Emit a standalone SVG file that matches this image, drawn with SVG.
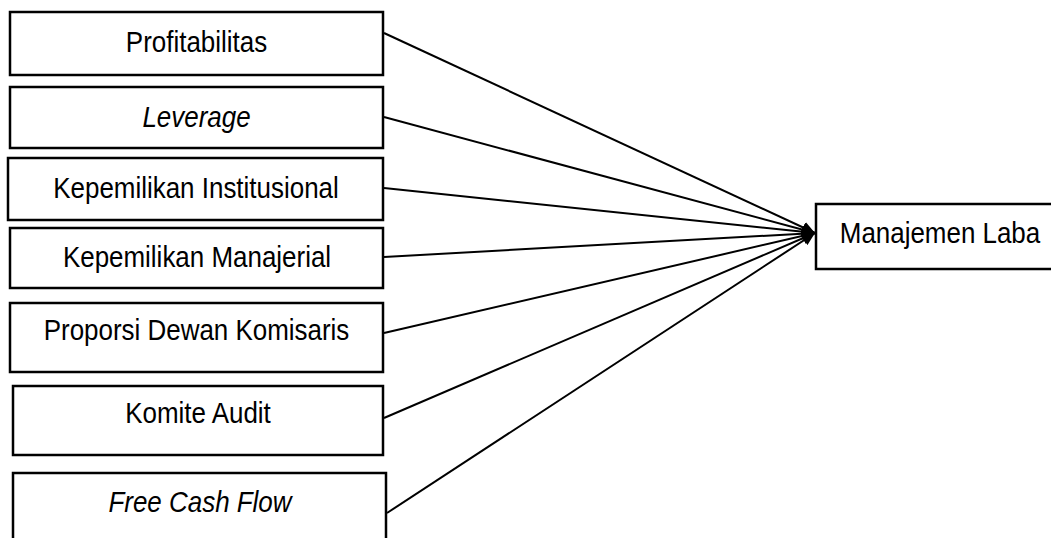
<svg xmlns="http://www.w3.org/2000/svg" width="1051" height="538" viewBox="0 0 1051 538">
  <style>
    .box { fill: #ffffff; stroke: #000000; stroke-width: 2.5; }
    .lbl { font-family: "Liberation Sans", Arial, sans-serif; font-size: 29.5px; fill: #000000; text-anchor: middle; }
    .it { font-style: italic; }
    .conn { stroke: #000000; stroke-width: 2; fill: none; marker-end: url(#arrow); }
  </style>
  <defs>
    <marker id="arrow" markerUnits="userSpaceOnUse" markerWidth="14" markerHeight="12" refX="13" refY="6" orient="auto">
      <path d="M0,0 L13,6 L0,12 Z" fill="#000000"/>
    </marker>
  </defs>
  <rect width="1051" height="538" fill="#ffffff"/>
  <g id="connectors">
    <line class="conn" x1="384" y1="33" x2="815" y2="233"/>
    <line class="conn" x1="384" y1="117" x2="815" y2="233"/>
    <line class="conn" x1="384" y1="188" x2="815" y2="233"/>
    <line class="conn" x1="384" y1="257" x2="815" y2="233"/>
    <line class="conn" x1="384" y1="333" x2="815" y2="233"/>
    <line class="conn" x1="384" y1="418" x2="815" y2="233"/>
    <line class="conn" x1="387" y1="513" x2="815" y2="233"/>
  </g>
  <g id="node-profitabilitas">
    <rect class="box" x="10" y="12" width="373" height="63"/>
    <text class="lbl" transform="translate(196.5,52) scale(0.88,1)">Profitabilitas</text>
  </g>
  <g id="node-leverage">
    <rect class="box" x="10" y="87" width="373" height="61"/>
    <text class="lbl it" transform="translate(196.5,127) scale(0.88,1)">Leverage</text>
  </g>
  <g id="node-institusional">
    <rect class="box" x="8" y="158" width="375" height="62"/>
    <text class="lbl" transform="translate(196,198) scale(0.88,1)">Kepemilikan Institusional</text>
  </g>
  <g id="node-manajerial">
    <rect class="box" x="10" y="228" width="373" height="60"/>
    <text class="lbl" transform="translate(197,267) scale(0.88,1)">Kepemilikan Manajerial</text>
  </g>
  <g id="node-proporsi">
    <rect class="box" x="10" y="303" width="373" height="69"/>
    <text class="lbl" transform="translate(196.5,340) scale(0.88,1)">Proporsi Dewan Komisaris</text>
  </g>
  <g id="node-komite">
    <rect class="box" x="13" y="386" width="370" height="69"/>
    <text class="lbl" transform="translate(198,423) scale(0.88,1)">Komite Audit</text>
  </g>
  <g id="node-fcf">
    <rect class="box" x="13" y="473" width="373" height="80"/>
    <text class="lbl it" transform="translate(200,512) scale(0.88,1)">Free Cash Flow</text>
  </g>
  <g id="node-manajemen-laba">
    <rect class="box" x="816" y="204" width="250" height="65"/>
    <text class="lbl" transform="translate(940,243) scale(0.88,1)">Manajemen Laba</text>
  </g>
</svg>
